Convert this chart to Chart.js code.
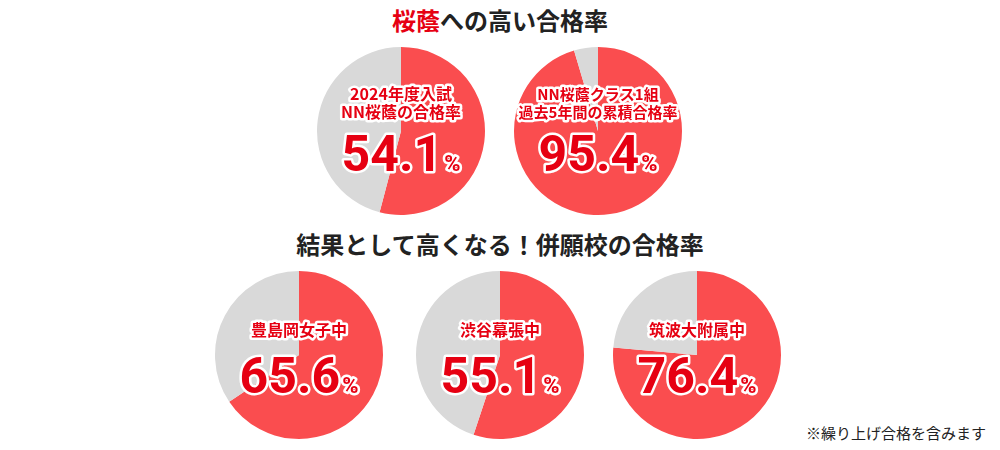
<!DOCTYPE html>
<html lang="ja">
<head>
<meta charset="UTF-8" />
<title>桜蔭への高い合格率</title>
<script src="https://cdn.jsdelivr.net/npm/chart.js"></script>
<style>
  body { margin: 0; width: 1000px; height: 450px; background: #fff; position: relative; overflow: hidden;
    font-family: 'Noto Sans CJK JP', 'Noto Sans', sans-serif; }
  .title { position: absolute; left: 0; width: 1000px; text-align: center; font-weight: bold; font-size: 24px; color: #222; line-height: 28px; }
  .title span { color: #e60012; }
  .box { position: absolute; width: 180px; height: 180px; }
  .note { position: absolute; right: 14px; top: 422px; font-size: 15px; color: #222; }
</style>
</head>
<body>
  <div class="title" style="top:6px"><span>桜蔭</span>への高い合格率</div>
  <div class="title" style="top:230px">結果として高くなる！併願校の合格率</div>
  <div class="box" style="left:311px;top:41px"><canvas id="c0"></canvas></div>
  <div class="box" style="left:508px;top:41px"><canvas id="c1"></canvas></div>
  <div class="box" style="left:209px;top:265px"><canvas id="c2"></canvas></div>
  <div class="box" style="left:410px;top:265px"><canvas id="c3"></canvas></div>
  <div class="box" style="left:607px;top:265px"><canvas id="c4"></canvas></div>
  <div class="note">※繰り上げ合格を含みます</div>
<script>
  const labels = [
    ['2024年度入試', 'NN桜蔭の合格率'],
    ['NN桜蔭クラス1組', '過去5年間の累積合格率'],
    ['豊島岡女子中'],
    ['渋谷幕張中'],
    ['筑波大附属中']
  ];
  const rates = [54.1, 95.4, 65.6, 55.1, 76.4];

  function outlined(ctx, text, x, y) {
    ctx.lineJoin = 'round';
    ctx.strokeStyle = '#fff';
    ctx.lineWidth = 5;
    ctx.strokeText(text, x, y);
    ctx.fillStyle = '#e60012';
    ctx.fillText(text, x, y);
  }

  const numFont = '"Liberation Sans Narrow", "Roboto", sans-serif';

  const centerText = {
    id: 'centerText',
    afterDraw(chart) {
      const i = chart.options.plugins.centerText.index;
      const ctx = chart.ctx;
      const cx = (chart.chartArea.left + chart.chartArea.right) / 2;
      const cy = (chart.chartArea.top + chart.chartArea.bottom) / 2;
      const lines = labels[i];
      ctx.save();
      ctx.textAlign = 'center';
      ctx.textBaseline = 'middle';
      ctx.font = 'bold ' + (lines[1] && lines[1].length > 9 ? 15 : 16) + 'px "Noto Sans CJK JP"';
      const top = lines.length === 2 ? cy - 37 : cy - 25;
      lines.forEach((t, k) => outlined(ctx, t, cx, top + k * 18));
      const num = rates[i].toFixed(1);
      ctx.font = 'bold 50px ' + numFont;
      const w1 = ctx.measureText(num).width;
      ctx.font = 'bold 22px ' + numFont;
      const w2 = ctx.measureText('%').width;
      const x0 = cx - (w1 + w2 + 2) / 2;
      const ny = lines.length === 2 ? cy + 40 : cy + 38;
      ctx.textAlign = 'left';
      ctx.textBaseline = 'alphabetic';
      ctx.font = 'bold 50px ' + numFont;
      outlined(ctx, num, x0, ny);
      ctx.font = 'bold 22px ' + numFont;
      outlined(ctx, '%', x0 + w1 + 2, ny);
      ctx.restore();
    }
  };

  rates.forEach((r, i) => {
    new Chart(document.getElementById('c' + i), {
      type: 'pie',
      data: {
        labels: ['合格', 'その他'],
        datasets: [{
          data: [r, 100 - r],
          backgroundColor: ['#fa4d4f', '#d9d9d9'],
          borderWidth: 0
        }]
      },
      options: {
        responsive: true,
        maintainAspectRatio: true,
        animation: false,
        layout: { padding: 6 },
        plugins: {
          legend: { display: false },
          tooltip: { enabled: false },
          centerText: { index: i }
        }
      },
      plugins: [centerText]
    });
  });
</script>
</body>
</html>
